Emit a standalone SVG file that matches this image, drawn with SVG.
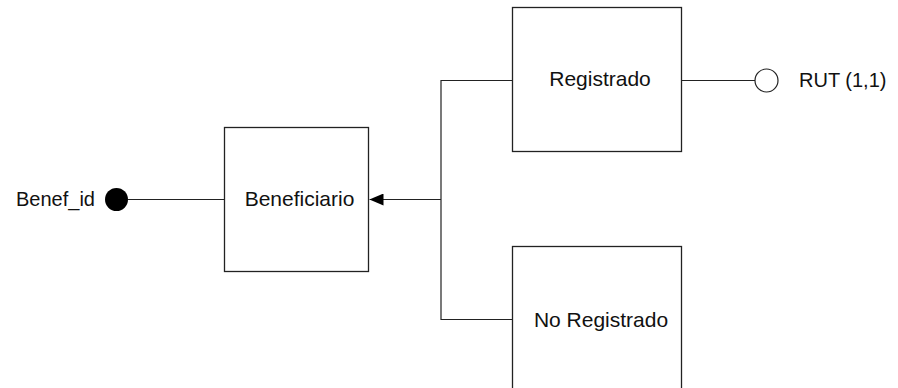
<svg xmlns="http://www.w3.org/2000/svg" width="898" height="388" viewBox="0 0 898 388">
<style>
.box{fill:#fff;stroke:#222;stroke-width:1.3}
.ln{fill:none;stroke:#222;stroke-width:1.2}
.t{font-family:"Liberation Sans",Arial,sans-serif;font-size:20px;fill:#111}
</style>
<defs>
<marker id="arr" markerWidth="14" markerHeight="12" refX="14" refY="6" orient="auto" markerUnits="userSpaceOnUse" viewBox="0 0 14 12">
<path d="M0,0 L14,6 L0,12 z" fill="#000"/>
</marker>
</defs>
<rect width="898" height="388" fill="#fff"/>
<g id="connectors">
<line class="ln" x1="128" y1="199.5" x2="224.5" y2="199.5"/>
<line class="ln" x1="441" y1="199.5" x2="369.5" y2="199.5" marker-end="url(#arr)"/>
<polyline class="ln" points="512.5,80.5 441,80.5 441,319.5 512.5,319.5"/>
<line class="ln" x1="681.5" y1="80.5" x2="755" y2="80.5"/>
</g>
<g id="benef_id">
<circle cx="116.5" cy="199.5" r="11.5" fill="#000"/>
<text class="t" x="95" y="206" text-anchor="end">Benef_id</text>
</g>
<g id="beneficiario">
<rect class="box" x="224.5" y="127.5" width="144" height="144"/>
<text class="t" x="299.5" y="206" text-anchor="middle" style="font-size:21px">Beneficiario</text>
</g>
<g id="registrado">
<rect class="box" x="512.5" y="7.5" width="169" height="144"/>
<text class="t" x="600" y="86" text-anchor="middle" style="font-size:21px">Registrado</text>
</g>
<g id="no_registrado">
<rect class="box" x="512.5" y="246.5" width="169" height="160"/>
<text class="t" x="601" y="326.5" text-anchor="middle" style="font-size:21px">No Registrado</text>
</g>
<g id="rut">
<circle cx="766.5" cy="80.5" r="11.5" fill="#fff" stroke="#222" stroke-width="1.2"/>
<text class="t" x="799" y="87">RUT (1,1)</text>
</g>
</svg>
